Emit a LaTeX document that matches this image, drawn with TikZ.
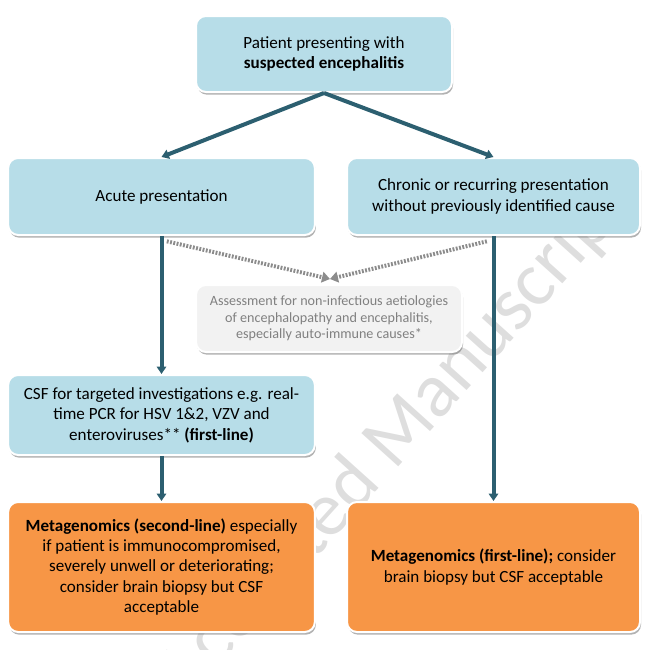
\documentclass[tikz,border=0pt]{standalone}
\usepackage{fontspec}
\setmainfont{Carlito}
\usetikzlibrary{arrows.meta,shadows}

\definecolor{boxblue}{HTML}{B7DDE8}
\definecolor{boxorange}{HTML}{F79646}
\definecolor{boxgray}{HTML}{F2F2F2}
\definecolor{textgray}{HTML}{808080}
\definecolor{arrowteal}{HTML}{2C5F70}

\begin{document}
\begin{tikzpicture}[
        x=0.75pt, y=-0.75pt,
        box/.style={rectangle, rounded corners=7.5pt, draw=white, line width=1.5pt,
          drop shadow={shadow xshift=0.8pt, shadow yshift=-2pt, fill=black!55, opacity=0.55},
          align=center, inner sep=0pt, font=\fontsize{12.8}{15.3}\selectfont},
        bluebox/.style={box, fill=boxblue},
        orangebox/.style={box, fill=boxorange},
        graybox/.style={box, fill=boxgray, text=textgray, font=\fontsize{10.6}{12.5}\selectfont},
        flow/.style={draw=arrowteal, line width=3pt, -{Triangle[width=7pt,length=5.5pt]}},
        hint/.style={draw=black!45, line width=3pt, dash pattern=on 1.4pt off 1.1pt,
          -{Triangle[width=8pt,length=6pt]}},
        watermark/.style={text=black!13, font=\fontsize{58}{58}\selectfont, rotate=48}
        ]
        \useasboundingbox (0,0) rectangle (651,650);

        % watermark behind everything
        \node[watermark] (wm) at (395,440) {Accepted Manuscript};

        % Define the nodes
        \node[bluebox, minimum width=192pt, minimum height=57pt] (patient) at (324,54)
          {Patient presenting with\\\textbf{suspected encephalitis}};
        \node[bluebox, minimum width=230pt, minimum height=57.75pt] (acute) at (161.5,196.5)
          {Acute presentation};
        \node[bluebox, minimum width=219.75pt, minimum height=57.75pt] (chronic) at (493.5,196.5)
          {Chronic or recurring presentation\\without previously identified cause};
        \node[graybox, minimum width=199.5pt, minimum height=50.25pt] (assess) at (329,318.5)
          {Assessment for non-infectious aetiologies\\of encephalopathy and encephalitis,\\especially auto-immune causes*};
        \node[bluebox, minimum width=230pt, minimum height=60pt] (csf) at (161.5,415)
          {CSF for targeted investigations e.g. real-\\time PCR for HSV 1\&2, VZV and\\enteroviruses** \textbf{(first-line)}};
        \node[orangebox, minimum width=230pt, minimum height=97.5pt] (metaleft) at (161.5,567)
          {\textbf{Metagenomics (second-line)} especially\\if patient is immunocompromised,\\severely unwell or deteriorating;\\consider brain biopsy but CSF\\acceptable};
        \node[orangebox, minimum width=219.75pt, minimum height=97.5pt] (metaright) at (493.5,567)
          {\textbf{Metagenomics (first-line);} consider\\brain biopsy but CSF acceptable};
        \coordinate (meet) at (330,279);

        % Draw the arrows
        \draw[flow] (patient.south) -- (acute.north);
        \draw[flow] (patient.south) -- (chronic.north);
        \draw[hint] ([xshift=4pt,yshift=-4pt]acute.south) -- (meet);
        \draw[hint] ([xshift=-5pt,yshift=-4pt]chronic.south) -- (meet);
        \draw[flow] (acute.south) -- (csf.north);
        \draw[flow] (csf.south) -- (metaleft.north);
        \draw[flow] (chronic.south) -- (metaright.north);
    \end{tikzpicture}
\end{document}
